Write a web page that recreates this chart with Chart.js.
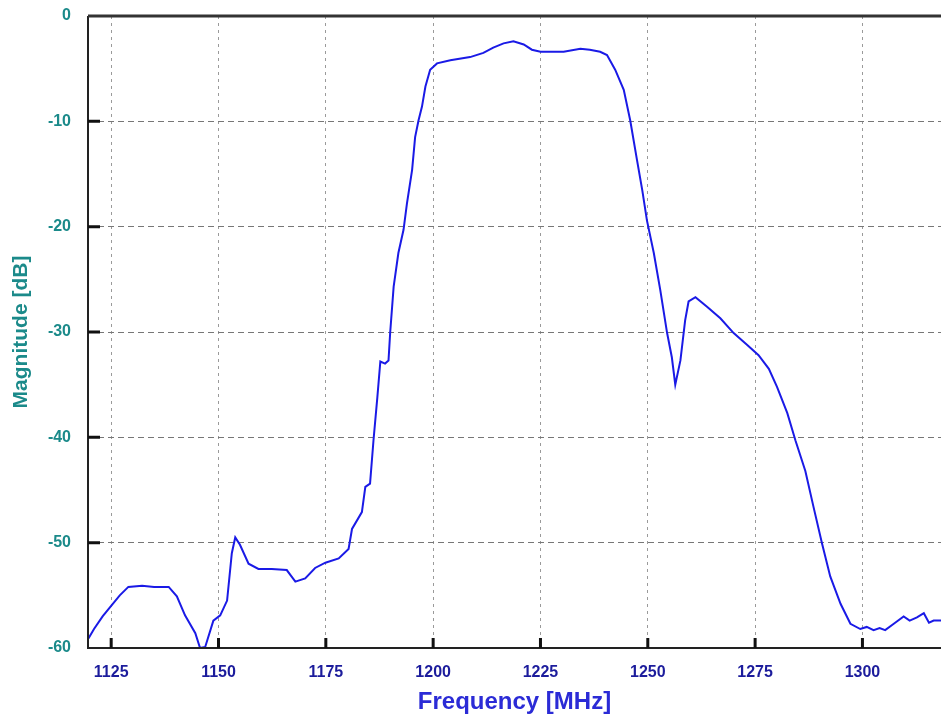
<!DOCTYPE html>
<html>
<head>
<meta charset="utf-8">
<script src="https://cdn.jsdelivr.net/npm/chart.js@4/dist/chart.umd.min.js"></script>
<style>
  body { margin: 0; background: #fff; }
  #wrap { width: 941px; height: 719px; }
</style>
</head>
<body>
<div id="wrap"><canvas id="myChart" width="941" height="719"></canvas></div>
<script>
// frequency response
const freq = [1119.7, 1121, 1123, 1124.8, 1127, 1129, 1132.2, 1135, 1138.4, 1140.3,
  1142.2, 1144.6, 1145.7, 1146.9, 1148.8, 1150.4, 1152, 1153.1, 1153.9, 1155,
  1157, 1159.3, 1162.4, 1165.9, 1167.9, 1170.2, 1172.5, 1174.9, 1178, 1180.3,
  1181.1, 1183.4, 1184.2, 1185.3, 1186.1, 1187, 1187.7, 1188.8, 1189.6, 1190,
  1190.8, 1191.9, 1193.1, 1193.9, 1195.1, 1195.8, 1196.6, 1197.4, 1198.2, 1199.3,
  1200.9, 1204, 1208.6, 1211.7, 1214, 1216.4, 1218.7, 1221.1, 1223, 1225,
  1230.4, 1234.3, 1236.5, 1238.9, 1240.5, 1242.4, 1244.4, 1245.9, 1247.5, 1248.7,
  1249.8, 1251.4, 1252.9, 1254.5, 1255.6, 1256.4, 1257.6, 1258.7, 1259.5, 1261.1,
  1263.8, 1266.9, 1270, 1273.1, 1275.8, 1278.2, 1280.1, 1282.5, 1284.4, 1286.7,
  1288.6, 1290.6, 1292.5, 1294.9, 1297.2, 1299.5, 1301, 1302.6, 1304, 1305.3,
  1307.3, 1309.6, 1311, 1312.7, 1314.3, 1315.5, 1316.6, 1318.3];
const magnitude = [-59.1, -58.2, -57.0, -56.1, -55.0, -54.2, -54.1, -54.2, -54.2, -55.1,
  -56.9, -58.6, -60, -59.9, -57.4, -56.9, -55.5, -51, -49.5, -50.2,
  -52, -52.5, -52.5, -52.6, -53.7, -53.4, -52.4, -51.9, -51.5, -50.6,
  -48.7, -47.1, -44.7, -44.4, -40.3, -36.2, -32.8, -33, -32.7, -30,
  -25.7, -22.5, -20.3, -17.8, -14.6, -11.5, -9.9, -8.6, -6.7, -5.1,
  -4.5, -4.2, -3.9, -3.5, -3.0, -2.6, -2.4, -2.7, -3.2, -3.4,
  -3.4, -3.1, -3.2, -3.4, -3.7, -5.1, -7, -9.9, -13.7, -16.5,
  -19.4, -22.5, -26, -30.1, -32.4, -35, -32.7, -28.9, -27.1, -26.7,
  -27.6, -28.7, -30.1, -31.2, -32.2, -33.5, -35.2, -37.7, -40.3, -43.2,
  -46.6, -50.1, -53.2, -55.8, -57.7, -58.2, -58.0, -58.3, -58.1, -58.3,
  -57.7, -57.0, -57.4, -57.1, -56.7, -57.6, -57.4, -57.4];
const xTicks = [1125, 1150, 1175, 1200, 1225, 1250, 1275, 1300];
const yTicks = [-60, -50, -40, -30, -20, -10, 0];

// black frame + inward tick marks like the original plot
const frame = {
  id: 'frame',
  afterDatasetsDraw(chart) {
    const { ctx, chartArea: a, scales: { x, y } } = chart;
    ctx.save();
    ctx.strokeStyle = '#222';
    ctx.lineWidth = 2;
    ctx.beginPath();
    ctx.moveTo(a.left, a.top);
    ctx.lineTo(a.left, a.bottom);
    ctx.lineTo(a.right, a.bottom);
    ctx.stroke();
    ctx.strokeStyle = '#333';
    ctx.lineWidth = 3;
    ctx.beginPath();
    ctx.moveTo(a.left, a.top);
    ctx.lineTo(a.right, a.top);
    ctx.stroke();
    ctx.strokeStyle = '#111';
    ctx.lineWidth = 3;
    ctx.beginPath();
    yTicks.slice(1, -1).forEach(v => {
      const py = y.getPixelForValue(v);
      ctx.moveTo(a.left, py);
      ctx.lineTo(a.left + 12, py);
    });
    xTicks.forEach(v => {
      const px = x.getPixelForValue(v);
      ctx.moveTo(px, a.bottom);
      ctx.lineTo(px, a.bottom - 10);
    });
    ctx.stroke();
    ctx.restore();
  }
};

new Chart(document.getElementById('myChart'), {
  type: 'line',
  data: {
    datasets: [{
      data: freq.map((f, i) => ({ x: f, y: magnitude[i] })),
      borderColor: '#1a1ae6',
      borderWidth: 2,
      pointRadius: 0,
      tension: 0
    }]
  },
  options: {
    responsive: false,
    devicePixelRatio: 1,
    animation: false,
    layout: { padding: { top: 16, right: 0, left: 0, bottom: 0 } },
    plugins: { legend: { display: false }, tooltip: { enabled: false } },
    scales: {
      x: {
        type: 'linear',
        min: 1119.6,
        max: 1318.3,
        afterBuildTicks: s => { s.ticks = xTicks.map(v => ({ value: v })); },
        afterFit: s => { s.height = 71; s.paddingLeft = 0; s.paddingRight = 0; },
        grid: { color: '#9a9a9a', lineWidth: 1, drawTicks: false },
        border: { display: false, dash: [3, 4] },
        ticks: {
          color: '#1c1c9c',
          font: { family: 'Liberation Sans', size: 16, weight: 'bold' },
          padding: 15,
          maxRotation: 0,
          callback: v => String(v)
        },
        title: {
          display: true,
          text: 'Frequency [MHz]',
          color: '#2b2bd6',
          font: { family: 'Liberation Sans', size: 24, weight: 'bold' },
          padding: { top: 0, bottom: 2 }
        }
      },
      y: {
        min: -60,
        max: 0,
        afterBuildTicks: s => { s.ticks = yTicks.map(v => ({ value: v })); },
        afterFit: s => { s.width = 88; s.paddingTop = 0; s.paddingBottom = 0; },
        grid: { color: '#777', lineWidth: 1, drawTicks: false },
        border: { display: false, dash: [6, 4] },
        ticks: {
          color: '#1b8a8a',
          font: { family: 'Liberation Sans', size: 16, weight: 'bold' },
          padding: 17,
          callback: v => String(v)
        },
        title: {
          display: true,
          text: 'Magnitude [dB]',
          color: '#1b8a8a',
          font: { family: 'Liberation Sans', size: 21, weight: 'bold' },
          padding: { top: 9, bottom: 0 }
        }
      }
    }
  },
  plugins: [frame]
});
</script>
</body>
</html>
